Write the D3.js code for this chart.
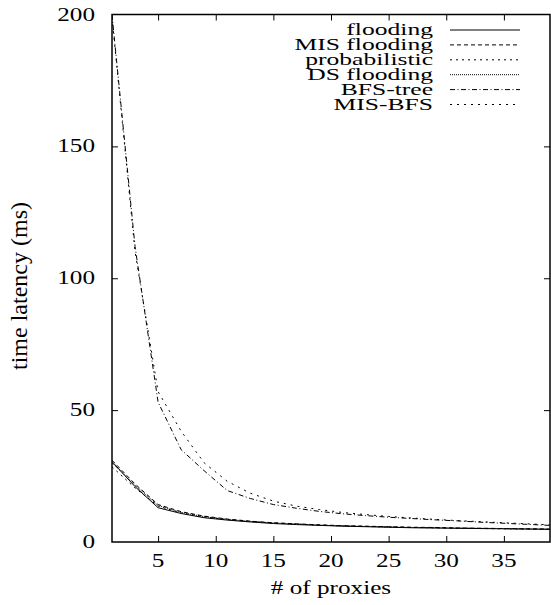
<!DOCTYPE html>
<html>
<head>
<meta charset="utf-8">
<script src="https://cdn.jsdelivr.net/npm/d3@7"></script>
<style>
  html, body { margin: 0; padding: 0; background: #fff; }
  svg { display: block; }
  text { font-family: "Liberation Serif", "Times New Roman", serif; fill: #000; }
</style>
</head>
<body>
<script>
// ---- data ----
const proxies = [1,3,5,7,9,11,13,15,17,19,21,23,25,27,29,31,33,35,37,39];
const flooding      = [30.5,21.0,13.0,10.8,9.2,8.3,7.6,7.0,6.6,6.3,6.0,5.8,5.6,5.4,5.3,5.2,5.1,5.0,4.9,4.8];
const misFlooding   = [31.0,22.0,14.2,11.5,9.8,8.7,7.9,7.3,6.9,6.5,6.2,6.0,5.8,5.6,5.5,5.3,5.2,5.1,5.0,4.9];
const probabilistic = [28.5,20.5,13.6,11.0,9.5,8.5,7.8,7.2,6.8,6.4,6.1,5.9,5.7,5.5,5.4,5.2,5.1,5.0,4.9,4.8];
const dsFlooding    = [30.0,21.5,13.8,11.2,9.6,8.6,7.8,7.2,6.8,6.4,6.1,5.9,5.7,5.5,5.4,5.3,5.2,5.1,5.0,4.9];
const bfsTree       = [200,112,53,35,27,19.5,16.5,14.2,12.8,11.6,10.7,10.0,9.4,8.9,8.4,8.0,7.5,7.1,6.7,6.3];
const misBfs        = [199,110,57,42,30,23,18.5,15.5,13.6,12.3,11.2,10.4,9.7,9.1,8.6,8.1,7.7,7.3,6.9,6.5];
const seriesNames = ["flooding","MIS flooding","probabilistic","DS flooding","BFS-tree","MIS-BFS"];
const xTicks = [5,10,15,20,25,30,35];
const yTicks = [0,50,100,150,200];
const xTitle = "# of proxies";
const yTitle = "time latency (ms)";

(function () {
// ---- layout ----
const W = 551, H = 605;
const pL = 112, pR = 550, pT = 14.5, pB = 542;
const SX = 1.4; // horizontal stretch of the original figure's text
const dashes = [null, "4,3", "2,4", "1,1", "5,2.5,1,2.5", "2,5"];

const svg = d3.select("body").append("svg").attr("width", W).attr("height", H);

const x = d3.scaleLinear().domain([1, 39]).range([pL, pR]);
const y = d3.scaleLinear().domain([0, 200]).range([pB, pT]);

const seriesData = [flooding, misFlooding, probabilistic, dsFlooding, bfsTree, misBfs];

// ticks (inward, mirrored) using axes
const tickLen = 6;
function styleAxis(g) {
  g.select(".domain").remove();
  g.selectAll(".tick line").attr("stroke", "#000").attr("stroke-width", 1);
  g.selectAll(".tick text").remove();
}
svg.append("g").attr("transform", `translate(0,${pB})`)
  .call(d3.axisTop(x).tickValues(xTicks).tickSize(tickLen)).call(styleAxis);
svg.append("g").attr("transform", `translate(0,${pT})`)
  .call(d3.axisBottom(x).tickValues(xTicks).tickSize(tickLen)).call(styleAxis);
svg.append("g").attr("transform", `translate(${pL},0)`)
  .call(d3.axisRight(y).tickValues(yTicks.slice(1, -1)).tickSize(tickLen)).call(styleAxis);
svg.append("g").attr("transform", `translate(${pR},0)`)
  .call(d3.axisLeft(y).tickValues(yTicks.slice(1, -1)).tickSize(tickLen)).call(styleAxis);

// frame
svg.append("rect").attr("x", pL).attr("y", pT)
  .attr("width", pR - pL).attr("height", pB - pT)
  .attr("fill", "none").attr("stroke", "#000").attr("stroke-width", 1.5);

// tick labels (stretched text)
svg.append("g").selectAll("text").data(xTicks).join("text")
  .attr("transform", d => `translate(${x(d)},567) scale(${SX},1)`)
  .attr("text-anchor", "middle").attr("font-size", 18).text(d => d);
svg.append("g").selectAll("text").data(yTicks).join("text")
  .attr("transform", d => `translate(95,${y(d) + 6}) scale(${SX},1)`)
  .attr("text-anchor", "end").attr("font-size", 18).text(d => d);

// axis titles
svg.append("text")
  .attr("transform", `translate(${(pL + pR) / 2},594) scale(${SX},1)`)
  .attr("text-anchor", "middle").attr("font-size", 18).text(xTitle);
svg.append("text")
  .attr("transform", `translate(27,286) rotate(-90)`)
  .attr("text-anchor", "middle").attr("font-size", 24).text(yTitle);

// lines
svg.append("clipPath").attr("id", "clip").append("rect")
  .attr("x", pL).attr("y", pT).attr("width", pR - pL).attr("height", pB - pT);
const line = d3.line().x((d, i) => x(proxies[i])).y(d => y(d));
svg.append("g").attr("clip-path", "url(#clip)").selectAll("path").data(seriesData).join("path")
  .attr("d", d => line(d))
  .attr("fill", "none").attr("stroke", "#000").attr("stroke-width", 1)
  .attr("stroke-dasharray", (d, i) => dashes[i]);

// legend
const legY0 = 30, legStep = 14.9;
const leg = svg.append("g");
seriesNames.forEach((name, i) => {
  const ly = legY0 + i * legStep;
  leg.append("text")
    .attr("transform", `translate(433,${ly + 5}) scale(1.55,1)`)
    .attr("text-anchor", "end").attr("font-size", 16.5).text(name);
  leg.append("line").attr("x1", 450).attr("x2", 520).attr("y1", ly).attr("y2", ly)
    .attr("stroke", "#000").attr("stroke-width", 1)
    .attr("stroke-dasharray", dashes[i]);
});
})();
</script>
</body>
</html>
